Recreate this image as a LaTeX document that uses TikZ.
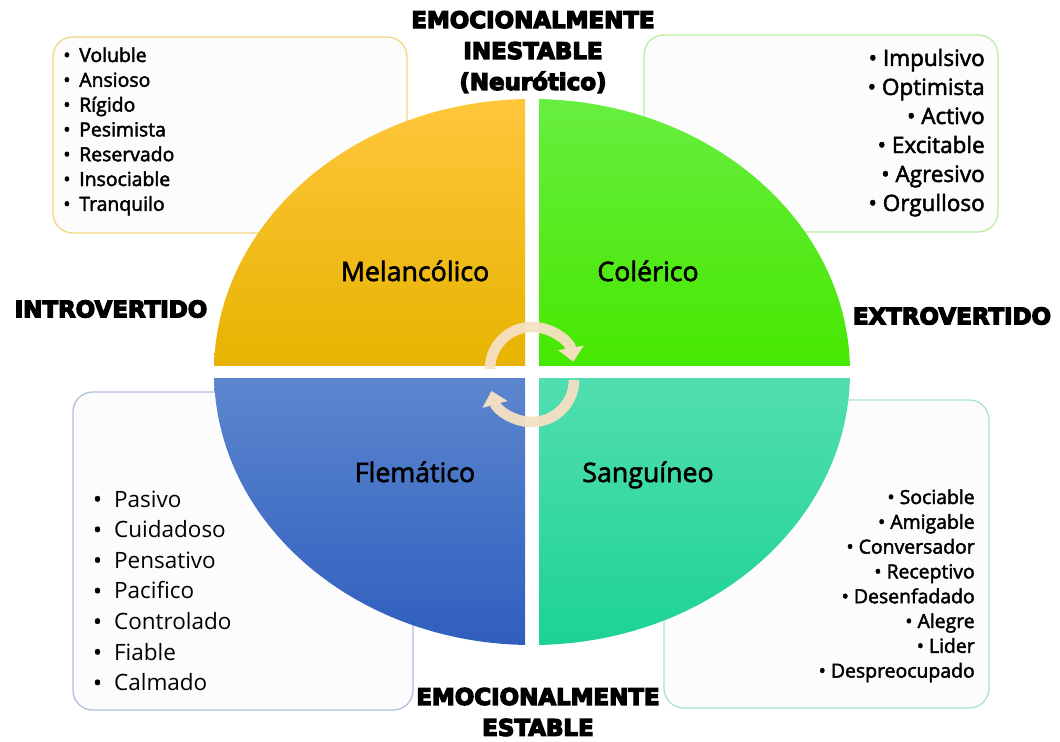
\documentclass[tikz,border=0pt]{standalone}
\usepackage{fontspec}
\setmainfont{Open Sans}
\newfontfamily\headfont{DejaVu Sans}
\newfontfamily\semifont{Open Sans}[FakeBold=2.2]
\usepackage{xcolor}
\usepackage{tikz}
\usetikzlibrary{calc}
\usetikzlibrary{arrows.meta}

\newcommand{\heavytext}[1]{\special{pdf:literal direct 2 Tr 0.9 w}#1\special{pdf:literal direct 0 Tr}}

\definecolor{melTop}{RGB}{255,198,60}
\definecolor{melBot}{RGB}{230,180,0}
\definecolor{colTop}{RGB}{104,238,64}
\definecolor{colBot}{RGB}{70,232,0}
\definecolor{flemTop}{RGB}{92,134,206}
\definecolor{flemBot}{RGB}{47,94,190}
\definecolor{sangTop}{RGB}{82,222,176}
\definecolor{sangBot}{RGB}{28,210,150}
\definecolor{melEdge}{RGB}{243,214,128}
\definecolor{colEdge}{RGB}{184,238,158}
\definecolor{flemEdge}{RGB}{176,190,220}
\definecolor{sangEdge}{RGB}{166,226,206}
\definecolor{boxgray}{RGB}{252,252,252}
\definecolor{turnbeige}{RGB}{246,224,196}

\begin{document}
\begin{tikzpicture}[x=0.025cm, y=-0.025cm]
        \tikzstyle{listbox} = [rounded corners=14pt, line width=0.9pt, fill=boxgray]
        \tikzstyle{quadlabel} = [anchor=base, inner sep=0pt, font=\semifont\fontsize{19}{22}\selectfont]
        \tikzstyle{axislabel} = [align=center, inner sep=0pt, font=\headfont\bfseries\fontsize{16.3}{22}\selectfont]
        \tikzstyle{smallitem} = [inner sep=0pt, font=\semifont\fontsize{13.8}{16}\selectfont]
        \tikzstyle{bigitem} = [inner sep=0pt, font=\fontsize{16}{19}\selectfont]
        \tikzstyle{turn} = [line width=7.5pt, draw=turnbeige, opacity=0.95, -{Triangle[width=18pt,length=10pt]}]
        \useasboundingbox (0,0) rectangle (1060,742);
        \coordinate (ctr) at (532,372);

        \draw[listbox, draw=melEdge] (53,37) rectangle (407,233);
        \draw[listbox, draw=colEdge] (644,35) rectangle (998,232);
        \draw[listbox, draw=flemEdge] (73,392) rectangle (413,710);
        \draw[listbox, draw=sangEdge] (664,400) rectangle (989,708);

        \foreach \xa/\ya/\xb/\yb/\ct/\cb in {213/99/525/365/melTop/melBot, 539/99/851/365/colTop/colBot,
                213/378/525/646/flemTop/flemBot, 539/378/851/646/sangTop/sangBot}
        {
                \begin{scope}
                        \clip (ctr) ellipse [x radius=318, y radius=273];
                        \shade[top color=\ct, bottom color=\cb] (\xa,\ya) rectangle (\xb,\yb);
                \end{scope}
        }

        \node[quadlabel] (mel) at (415,281) {Melancólico};
        \node[quadlabel] (col) at (648,281) {Colérico};
        \node[quadlabel] (flem) at (415,482) {Flemático};
        \node[quadlabel] (sang) at (648,482) {Sanguíneo};

        \draw[turn] ($(ctr)+(-42,-3)$) arc[start angle=180, end angle=350, radius=42];
        \draw[turn] ($(ctr)+(42,8)$) arc[start angle=0, end angle=165, radius=42];

        \foreach \w [count=\k] in {Voluble,Ansioso,Rígido,Pesimista,Reservado,Insociable,Tranquilo}
                \node[smallitem, anchor=base west] (mel\k) at (63,{62+24.8*(\k-1)}) {•\hspace{0.45em}\w};
        \foreach \w [count=\k] in {Impulsivo,Optimista,Activo,Excitable,Agresivo,Orgulloso}
                \node[smallitem, anchor=base east, font=\semifont\fontsize{16}{19}\selectfont] (col\k) at (985,{66+29*(\k-1)}) {• \w};
        \foreach \w [count=\k] in {Pasivo,Cuidadoso,Pensativo,Pacifico,Controlado,Fiable,Calmado}
                \node[bigitem, anchor=base west] (flem\k) at (93,{507+30.6*(\k-1)}) {{\semifont•}\hspace{0.55em}\w};
        \foreach \w [count=\k] in {Sociable,Amigable,Conversador,Receptivo,Desenfadado,Alegre,Lider,Despreocupado}
                \node[smallitem, anchor=base east] (sang\k) at (975,{504+24.8*(\k-1)}) {• \w};

        \node[axislabel] (inestable) at (533,52) {\heavytext{EMOCIONALMENTE}\\\heavytext{INESTABLE}\\\heavytext{(Neurótico)}};
        \node[axislabel] (intro) at (111,309) {\heavytext{INTROVERTIDO}};
        \node[axislabel] (extro) at (952,316) {\heavytext{EXTROVERTIDO}};
        \node[axislabel] (estable) at (538,712) {\heavytext{EMOCIONALMENTE}\\\heavytext{ESTABLE}};
\end{tikzpicture}
\end{document}
